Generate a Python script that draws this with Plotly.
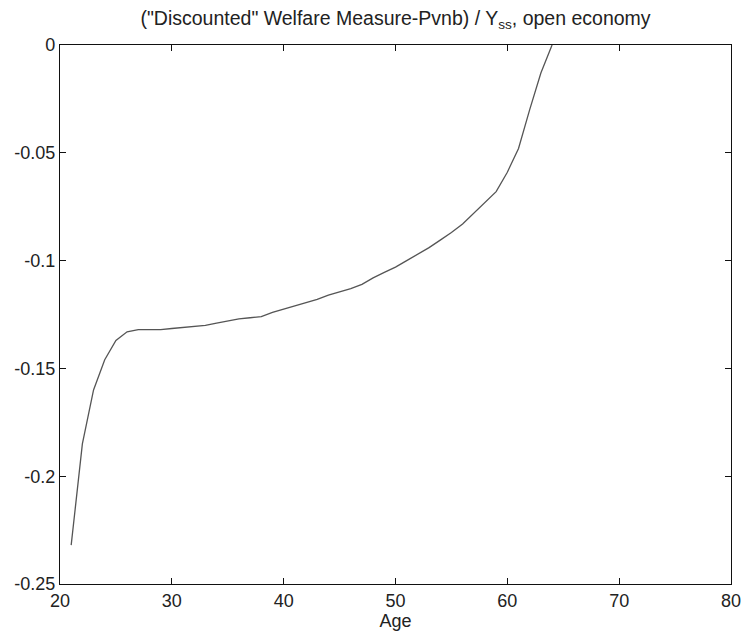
import plotly.graph_objects as go

ages = list(range(21, 65))
welfare = [-0.232, -0.185, -0.160, -0.146, -0.137, -0.133, -0.132, -0.132, -0.132, -0.1315,
           -0.131, -0.1305, -0.130, -0.129, -0.128, -0.127, -0.1265, -0.126, -0.124, -0.1225,
           -0.121, -0.1195, -0.118, -0.116, -0.1145, -0.113, -0.111, -0.108, -0.1055, -0.103,
           -0.100, -0.097, -0.094, -0.0905, -0.087, -0.083, -0.078, -0.073, -0.068, -0.059,
           -0.048, -0.030, -0.013, 0.0]

x_ticks = [20, 30, 40, 50, 60, 70, 80]
y_ticks = [0, -0.05, -0.1, -0.15, -0.2, -0.25]
y_labels = ["0", "-0.05", "-0.1", "-0.15", "-0.2", "-0.25"]

fig = go.Figure()
fig.add_trace(go.Scatter(x=ages, y=welfare, mode="lines",
                         line=dict(color="#555555", width=1.3), showlegend=False))

axis_common = dict(showline=True, linecolor="#111111", linewidth=1.2, mirror="ticks",
                   ticks="inside", ticklen=6, tickcolor="#111111", showgrid=False,
                   zeroline=False, ticklabeloverflow="allow", automargin=False,
                   tickfont=dict(size=18, color="#222222"))

fig.update_layout(
    width=742, height=636,
    margin=dict(l=60, r=11, t=45, b=52),
    paper_bgcolor="white", plot_bgcolor="white",
    font=dict(family="Liberation Sans, Arial, sans-serif", color="#222222"),
    title=dict(text='("Discounted" Welfare Measure-Pvnb) / Y<sub>ss</sub>, open economy',
               x=0.5, xanchor="center", xref="paper", y=0.972, yanchor="middle",
               font=dict(size=19.5, color="#222222")),
    xaxis=dict(range=[20, 80], tickvals=x_ticks,
               title=dict(text="Age", font=dict(size=18), standoff=0), **axis_common),
    yaxis=dict(range=[-0.25, 0], tickvals=y_ticks, ticktext=y_labels, **axis_common),
)

fig.write_html("out.html")
